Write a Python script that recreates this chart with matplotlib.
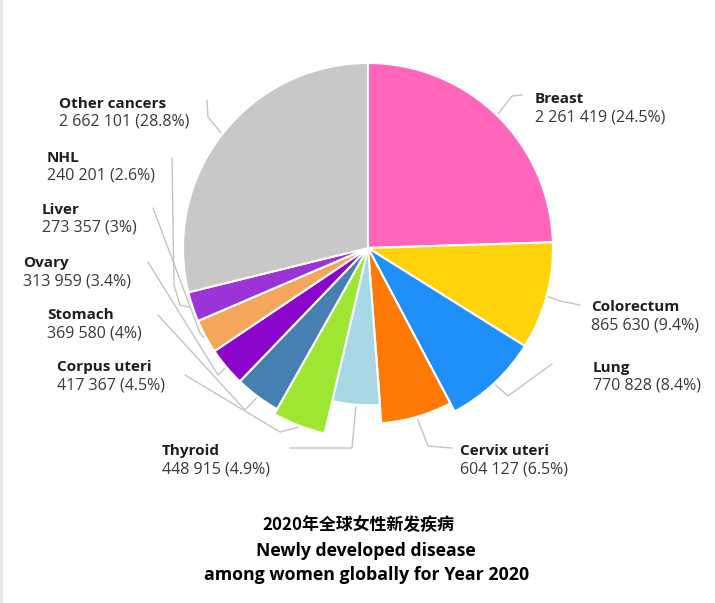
import matplotlib
matplotlib.use("Agg")
import matplotlib.pyplot as plt
import numpy as np

# ---------------- data ----------------
names = ["Breast", "Colorectum", "Lung", "Cervix uteri", "Thyroid", "Corpus uteri",
         "Stomach", "Ovary", "Liver", "NHL", "Other cancers"]
values = [2261419, 865630, 770828, 604127, 448915, 417367,
          369580, 313959, 273357, 240201, 2662101]
colors = ["#ff66ba", "#ffd30a", "#1f90fa", "#ff7a05", "#a8d8e4", "#9ee632",
          "#4680b2", "#8c05cc", "#f4a75a", "#9b33d6", "#c8c8c8"]
title_lines = ["2020年全球女性新发疾病", "Newly developed disease",
               "among women globally for Year 2020"]

# ---------------- layout ----------------
W, H = 715, 603
fig = plt.figure(figsize=(W / 100, H / 100), dpi=100)
ax = fig.add_axes([0, 0, 1, 1])

def Y(y):  # image y (down) -> data y (up)
    return H - y

cx, cy, R = 368, 248, 185
wedges, _ = ax.pie(values, colors=colors, startangle=90, counterclock=False,
                   center=(cx, Y(cy)), radius=R,
                   wedgeprops=dict(edgecolor="white", linewidth=1.5))
ax.set_xlim(0, W)
ax.set_ylim(0, H)
ax.set_aspect("equal")
ax.axis("off")

# slight per-wedge radius differences seen in the picture
radius_scale = {3: 0.95, 4: 0.85, 5: 1.03}
for i, s in radius_scale.items():
    wedges[i].set_radius(R * s)

total = sum(values)
pcts = [v / total * 100 for v in values]

def fmt_num(v):
    return f"{v:,}".replace(",", " ")

def fmt_pct(p):
    r = round(p, 1)
    return f"{r:g}%"

# label positions (image coords, left x, name-line center y)
label_pos = {
    "Breast": (535, 99), "Colorectum": (591, 307), "Lung": (593, 368),
    "Cervix uteri": (460, 451), "Thyroid": (162, 451), "Corpus uteri": (57, 367),
    "Stomach": (47, 315), "Ovary": (23, 263), "Liver": (42, 210),
    "NHL": (47, 158), "Other cancers": (59, 104),
}
# intermediate leader points (image coords), ending at the wedge
leader_pts = {
    "Breast": [(522, 95), (512, 96)],
    "Colorectum": [(580, 305), (560, 301)],
    "Lung": [(552, 364), (508, 396)],
    "Cervix uteri": [(452, 448), (428, 446)],
    "Thyroid": [(290, 448), (352, 448)],
    "Corpus uteri": [(185, 375), (280, 432)],
    "Stomach": [(158, 315), (245, 410)],
    "Ovary": [(148, 262), (218, 375)],
    "Liver": [(153, 208), (200, 333)],
    "NHL": [(172, 158), (174, 285), (180, 305)],
    "Other cancers": [(207, 100), (208, 117)],
}

font = "Open Sans"
cum = 0.0
for i, name in enumerate(names):
    frac = values[i] / total
    mid = cum + frac / 2
    cum += frac
    ang = np.deg2rad(90 - mid * 360)
    r_edge = wedges[i].r + 2
    ex = cx + r_edge * np.cos(ang)
    ey = cy - r_edge * np.sin(ang)
    pts = leader_pts[name] + [(ex, ey)]
    ax.plot([p[0] for p in pts], [Y(p[1]) for p in pts], color="#c4c4c4",
            lw=1.0, zorder=0, solid_capstyle="round", solid_joinstyle="round")
    lx, ly = label_pos[name]
    ax.text(lx, Y(ly), name, fontsize=11, fontweight="bold", family=font,
            color="#1e1e1e", ha="left", va="center")
    ax.text(lx, Y(ly + 18), f"{fmt_num(values[i])} ({fmt_pct(pcts[i])})",
            fontsize=11.5, family=font, color="#3a3a3a", ha="left", va="center")

# title
ax.text(358, Y(525), title_lines[0], fontsize=12.2, fontweight="bold",
        family=["Noto Sans CJK SC", "DejaVu Sans"], color="black",
        ha="center", va="center")
ax.text(366, Y(551), title_lines[1], fontsize=12.7, fontweight="bold",
        family=font, color="black", ha="center", va="center")
ax.text(367, Y(575), title_lines[2], fontsize=12.8, fontweight="bold",
        family=font, color="black", ha="center", va="center")

# faint frame on the left edge
ax.plot([1, 1], [0, H], color="#e6e6e6", lw=2)

fig.savefig("out.png", dpi=100, facecolor="white")
